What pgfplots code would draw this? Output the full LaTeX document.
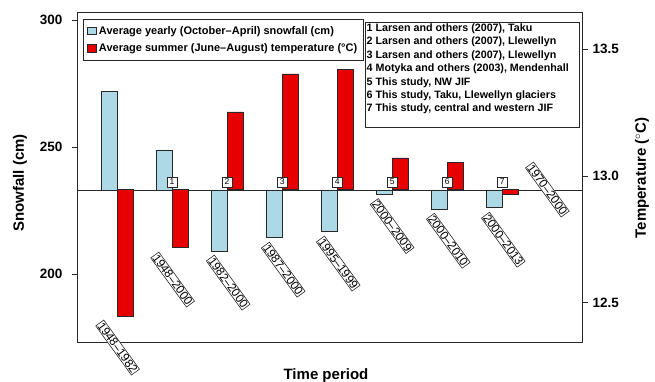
\documentclass[border=0pt]{standalone}
\usepackage{fontspec}
\setmainfont{Liberation Sans}
\usepackage{pgfplots}
\usepackage{pgfplotstable}
\pgfplotsset{compat=1.18}
\definecolor{snowblue}{RGB}{173,216,230}
\definecolor{tempred}{RGB}{230,0,0}
\definecolor{frame}{RGB}{40,40,40}

% snow in cm, temp in deg C; baselines 233.1 cm and 12.945 C
\pgfplotstableread{
i snow temp
0 272.0 12.448
1 248.9 12.717
2 209.0 13.252
3 214.4 13.402
4 216.7 13.420
5 231.5 13.071
6 225.5 13.054
7 226.1 12.928
}\data

\pgfplotsset{
  common/.style={
    scale only axis, width=504pt, height=330pt,
    at={(0,0)}, anchor=south west,
    xmin=-0.71, xmax=8.45, xtick=\empty,
    axis line style={line width=1pt, frame},
    tick align=outside, major tick length=6pt,
    tick style={line width=0.6pt, frame},
    /pgf/number format/assume math mode=true,
    tick label style={font=\fontsize{13.5}{13.5}\bfseries},
    label style={font=\fontsize{15}{15}\bfseries},
    clip=false,
  },
}
\tikzset{
  lbl/.style={draw=frame, fill=white, rotate=-54, anchor=north west,
    inner sep=0.8pt, line width=0.6pt, font=\fontsize{11.8}{11.8}\selectfont},
  num/.style={draw=frame, fill=white, anchor=south, inner sep=1pt,
    minimum width=10pt, minimum height=10pt, line width=0.6pt,
    font=\fontsize{8.5}{8.5}\selectfont, yshift=2.5pt},
}

\begin{document}
\begin{tikzpicture}
\useasboundingbox (-78pt,-39pt) rectangle (577pt,343pt);
\begin{axis}[common,
  ymin=-60.3, ymax=69.7,
  ytick={-33.1,16.9,66.9}, yticklabels={200,250,300},
  ytick pos=left,
  yticklabel style={xshift=-6pt},
  ylabel={Snowfall (cm)},
  ylabel style={at={(axis description cs:-0.115,0.485)}, anchor=center},
  xlabel={Time period},
  xlabel style={at={(axis description cs:0.492,-0.112)}, anchor=base},
]
\addplot[ybar, bar width=0.29, bar shift=-0.145, fill=snowblue, draw=frame, line width=0.6pt]
  table[x=i, y expr=\thisrow{snow}-233.1] {\data};
\draw[frame, line width=0.8pt] (axis cs:-0.71,0) -- (axis cs:8.45,0);
\end{axis}
\begin{axis}[common,
  ymin=-0.604, ymax=0.697,
  hide x axis, axis y line*=right,
  ytick={-0.445,0.055,0.555}, yticklabels={12.5,13.0,13.5},
  ytick pos=right,
  yticklabel style={xshift=1pt},
  ylabel={Temperature ($^\circ$C)},
  ylabel style={at={(axis description cs:1.119,0.5)}, anchor=center},
  legend image code/.code={\draw[#1, line width=0.6pt] (0pt,-3.5pt) rectangle (9pt,4pt);},
  legend style={at={(0.0099,0.982)}, anchor=north west, draw=frame, line width=0.8pt,
    font=\fontsize{11}{11}\bfseries, inner xsep=4pt, inner ysep=5pt, row sep=4pt,
    cells={anchor=west}},
]
\addlegendimage{fill=snowblue, draw=frame}
\addlegendentry{Average yearly (October--April) snowfall (cm)}
\addplot[ybar, bar width=0.29, bar shift=0.145, fill=tempred, draw=frame, line width=0.6pt]
  table[x=i, y expr=\thisrow{temp}-12.945] {\data};
\addlegendentry{Average summer (June--August) temperature (\textdegree C)}

\node[num] at (axis cs:1,0) {1};
\node[num] at (axis cs:2,0) {2};
\node[num] at (axis cs:3,0) {3};
\node[num] at (axis cs:4,0) {4};
\node[num] at (axis cs:5,0) {5};
\node[num] at (axis cs:6,0) {6};
\node[num] at (axis cs:7,0) {7};

\node[lbl] at (axis cs:-0.24,-0.512) {1948--1982};
\node[lbl] at (axis cs:0.76,-0.244) {1948--2000};
\node[lbl] at (axis cs:1.77,-0.256) {1982--2000};
\node[lbl] at (axis cs:2.77,-0.205) {1987--2000};
\node[lbl] at (axis cs:3.77,-0.181) {1995--1999};
\node[lbl] at (axis cs:4.75,-0.033) {2000--2009};
\node[lbl] at (axis cs:5.77,-0.091) {2000--2010};
\node[lbl] at (axis cs:6.77,-0.087) {2000--2013};
\node[lbl] at (axis cs:7.57,0.111) {1970--2000};

\draw[frame, line width=0.8pt] (rel axis cs:0.5694,0.6545) rectangle (rel axis cs:0.994,0.9727);
\node[anchor=north west, align=left, inner sep=1.5pt,
  font=\fontsize{10.7}{13.4}\bfseries] at (rel axis cs:0.5694,0.9727)
  {1 Larsen and others (2007), Taku\\
   2 Larsen and others (2007), Llewellyn\\
   3 Larsen and others (2007), Llewellyn\\
   4 Motyka and others (2003), Mendenhall\\
   5 This study, NW JIF\\
   6 This study, Taku, Llewellyn glaciers\\
   7 This study, central and western JIF};
\end{axis}
\end{tikzpicture}
\end{document}
